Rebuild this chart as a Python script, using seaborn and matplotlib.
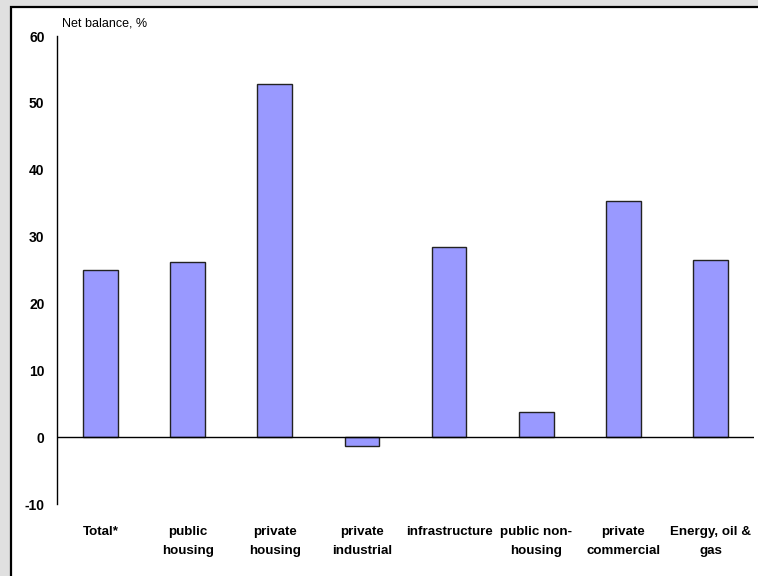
import matplotlib
matplotlib.use("Agg")
import matplotlib.pyplot as plt
import matplotlib.patches as mpatches
import seaborn as sns
import pandas as pd

categories = ["Total*", "public\nhousing", "private\nhousing", "private\nindustrial",
              "infrastructure", "public non-\nhousing", "private\ncommercial",
              "Energy, oil &\ngas"]
net_balance = [25.0, 26.2, 52.8, -1.3, 28.5, 3.8, 35.3, 26.5]
y_ticks = [-10, 0, 10, 20, 30, 40, 50, 60]

df = pd.DataFrame({"category": categories, "value": net_balance})

sns.set_theme(style="white")
plt.rcParams["font.family"] = ["Liberation Sans", "DejaVu Sans"]

fig = plt.figure(figsize=(7.58, 5.76), dpi=100, facecolor="#e0e0e0")

# background layer: white panel with black border, running off the right and bottom edges
bg = fig.add_axes([0, 0, 1, 1], zorder=-1)
bg.set_axis_off()
bg.set_xlim(0, 1)
bg.set_ylim(0, 1)
bg.add_patch(mpatches.Rectangle((10.5 / 758, -0.05), 1.2, 1 - 6.5 / 576 + 0.05,
                                facecolor="white", edgecolor="black", linewidth=1.6))

ax = fig.add_axes([57 / 758, 1 - 504 / 576, (754 - 57) / 758, (504 - 36) / 576], zorder=1)
ax.set_facecolor("none")

sns.barplot(data=df, x="category", y="value", order=categories, color="#9999ff",
            saturation=1, width=0.4, edgecolor="#222222", linewidth=1.0, ax=ax)

ax.axhline(0, color="black", linewidth=1.0, zorder=3)
ax.set_xlim(-0.5, len(categories) - 0.5)
ax.set_ylim(-10, 60)
ax.set_yticks(y_ticks)
ax.set_yticklabels([str(t) for t in y_ticks], fontsize=10, fontweight="bold")
ax.tick_params(axis="y", length=0, pad=9, colors="black")
ax.tick_params(axis="x", length=0, pad=15.5, colors="black")
for lbl in ax.get_xticklabels():
    lbl.set_fontsize(9.6)
    lbl.set_fontweight("bold")
    lbl.set_linespacing(1.85)
    lbl.set_verticalalignment("top")

ax.set_xlabel("")
ax.set_ylabel("")
for side in ["top", "right", "bottom"]:
    ax.spines[side].set_visible(False)
ax.spines["left"].set_color("black")
ax.spines["left"].set_linewidth(1.0)

fig.text(62 / 758, 1 - 24 / 576, "Net balance, %", fontsize=9,
         ha="left", va="center", color="black")

fig.savefig("out.png", dpi=100, facecolor=fig.get_facecolor())
